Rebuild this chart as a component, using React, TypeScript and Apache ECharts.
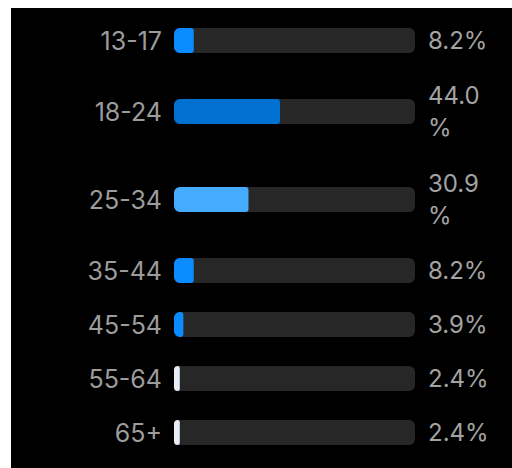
import React, { useEffect, useRef } from "react";
import * as echarts from "echarts";

const categories = ["13-17", "18-24", "25-34", "35-44", "45-54", "55-64", "65+"];
const shares = [8.2, 44.0, 30.9, 8.2, 3.9, 2.4, 2.4];

// style / layout constants
const barColors = ["#0a8bff", "#0071d1", "#45abff", "#0a8bff", "#0a8bff", "#e8eef7", "#e8eef7"];
const rowHeights = [54, 88, 88, 54, 54, 54, 54];
const firstRowTop = 5.5;
const barH = 25;
const FONT = "Inter, 'Noto Sans', sans-serif";

export default function App() {
  const ref = useRef<HTMLDivElement>(null);
  useEffect(() => {
    if (!ref.current) return;
    const chart = echarts.init(ref.current, null, { renderer: "svg" });
    const grids: any[] = [];
    const xAxes: any[] = [];
    const yAxes: any[] = [];
    const series: any[] = [];
    let top = firstRowTop;
    categories.forEach((cat, i) => {
      const center = top + rowHeights[i] / 2;
      top += rowHeights[i];
      grids.push({ left: 163, right: 97, top: center - barH / 2, height: barH });
      xAxes.push({
        type: "value", gridIndex: i, min: 0, max: 100, show: false,
      });
      yAxes.push({
        type: "category", gridIndex: i, data: [cat], position: "left",
        axisLine: { show: false }, axisTick: { show: false }, splitLine: { show: false },
        axisLabel: { color: "#9c9c9c", fontSize: 25, fontFamily: FONT, margin: 12 },
      });
      yAxes.push({
        type: "category", gridIndex: i, data: [shares[i].toFixed(1) + "%"], position: "right",
        axisLine: { show: false }, axisTick: { show: false }, splitLine: { show: false },
        axisLabel: {
          color: "#a3a3a3", fontSize: 24, fontFamily: FONT, margin: 13,
          width: 64, overflow: "breakAll", lineHeight: 32, align: "left",
        },
      });
      series.push({
        type: "bar", xAxisIndex: i, yAxisIndex: 2 * i,
        data: [shares[i]], barWidth: "100%",
        itemStyle: { color: barColors[i], borderRadius: [6, 3, 3, 6] },
        showBackground: true,
        backgroundStyle: { color: "#272727", borderRadius: 6 },
        silent: true,
      });
    });
    chart.setOption({
      animation: false,
      backgroundColor: "#000000",
      grid: grids,
      xAxis: xAxes,
      yAxis: yAxes,
      series,
    });
    return () => chart.dispose();
  }, []);
  return (
    <div
      ref={ref}
      style={{ position: "absolute", left: 11, top: 8, width: 501, height: 460, background: "#000" }}
    />
  );
}
